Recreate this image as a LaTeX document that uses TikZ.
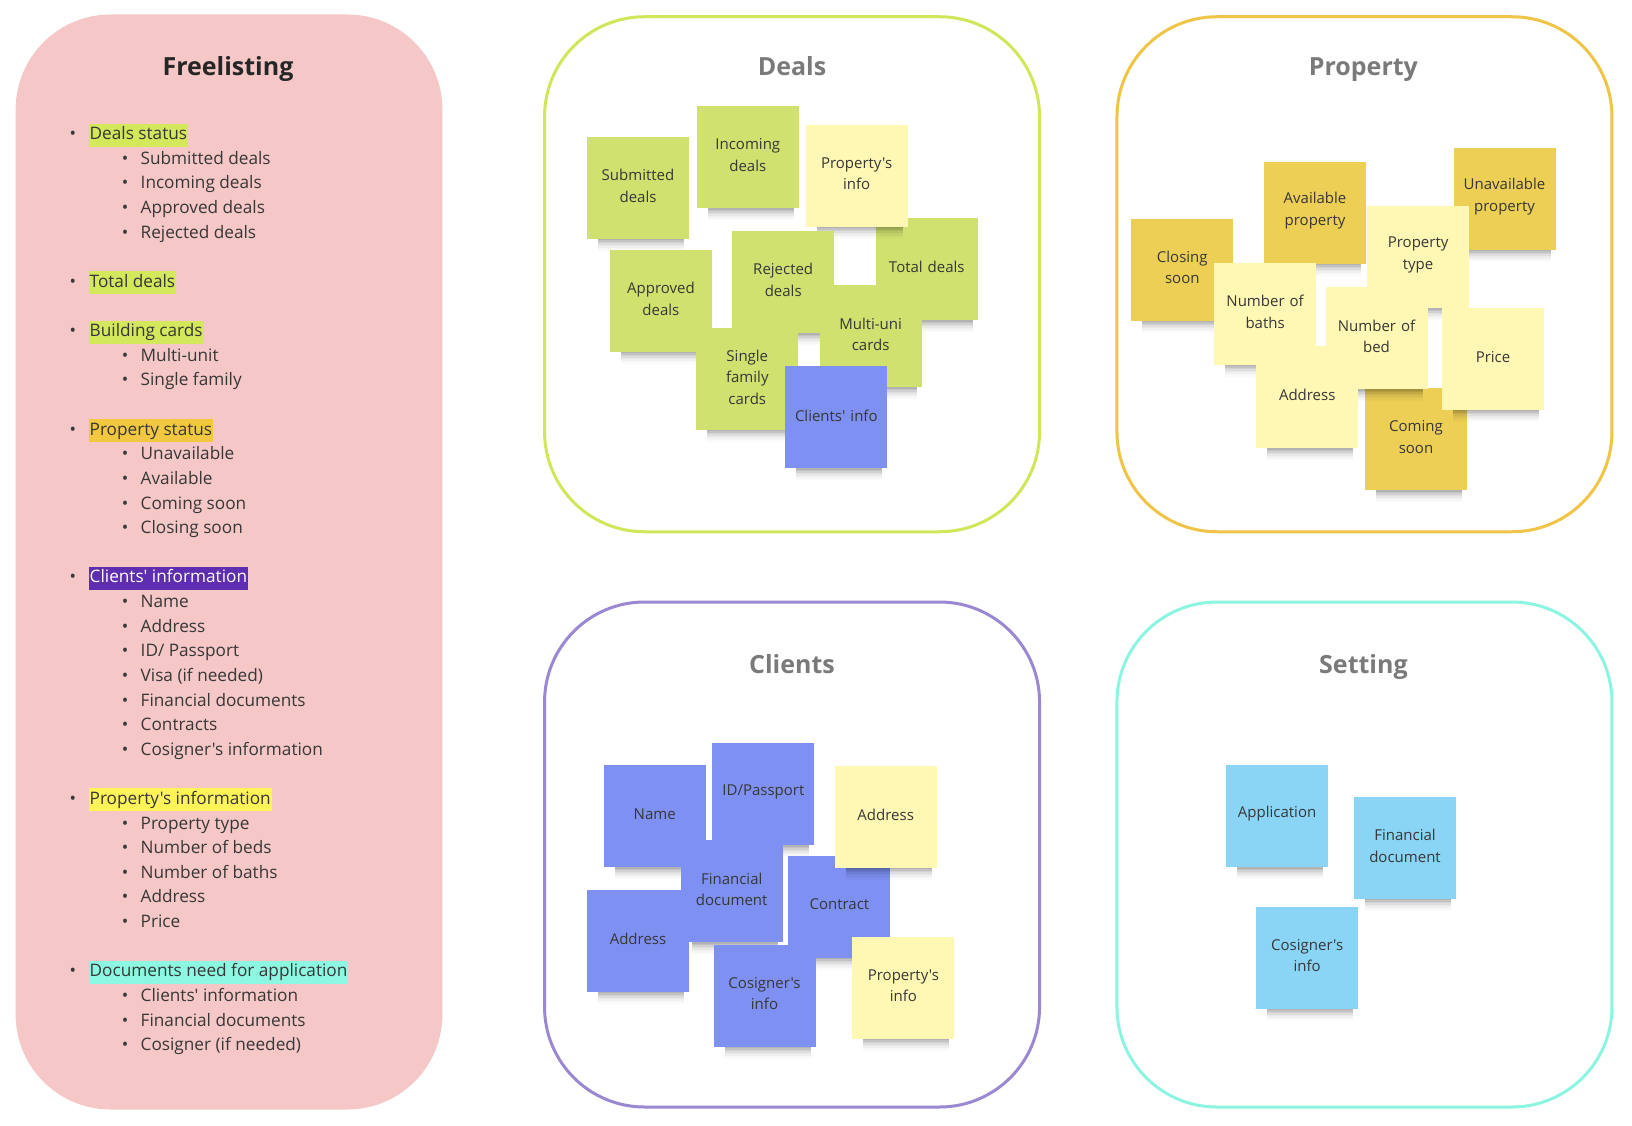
\documentclass[tikz,border=0pt]{standalone}
\usepackage{fontspec}
\setmainfont{Open Sans}[Ligatures=TeXOff]
\definecolor{txt}{RGB}{55,55,55}
\definecolor{ttl}{RGB}{122,122,122}
\definecolor{pinkbg}{RGB}{245,199,199}
\definecolor{hlgreen}{RGB}{212,232,92}
\definecolor{hlorange}{RGB}{242,200,65}
\definecolor{hlpurple}{RGB}{95,45,175}
\definecolor{hlyellow}{RGB}{255,243,90}
\definecolor{hlaqua}{RGB}{140,248,225}
\definecolor{dealsline}{RGB}{210,230,90}
\definecolor{propline}{RGB}{240,196,70}
\definecolor{clientline}{RGB}{155,135,210}
\definecolor{settingline}{RGB}{140,245,225}
\definecolor{ngreen}{RGB}{208,225,112}
\definecolor{nlyellow}{RGB}{255,247,180}
\definecolor{ndyellow}{RGB}{237,207,85}
\definecolor{nblue}{RGB}{126,144,242}
\definecolor{nlblue}{RGB}{138,212,245}
\tikzset{
  panel/.style={line width=3pt, rounded corners=100pt, inner sep=0pt, minimum width=495pt},
  paneltitle/.style={font=\fontsize{25}{30}\selectfont\bfseries, text=ttl, text height=18pt, text depth=0pt, inner sep=0pt},
  item/.style={anchor=west, font=\fontsize{17.2}{20}\selectfont, text=txt, text height=12.5pt, text depth=3.5pt, inner xsep=1pt, inner ysep=3.5pt},
  blt/.style={font=\fontsize{17.2}{20}\selectfont, text=txt, text height=12.5pt, text depth=3.5pt, inner sep=0pt},
  note/.style={minimum width=102pt, minimum height=102pt, inner sep=0pt},
  notetext/.style={text width=96pt, align=center, font=\fontsize{15}{21.5}\selectfont, text=txt, inner sep=0pt},
}
\newcommand\sticky[5]{%
  \foreach \k/\o in {0/0.30,1/0.24,2/0.18,3/0.13,4/0.09,5/0.06,6/0.035,7/0.015}{%
    \fill[black,opacity=\o] (#2-40,#3+51+1.5*\k) rectangle (#2+46,#3+52.5+1.5*\k);}
  \node[note,fill=#4] (#1) at (#2,#3) {};
  \node[notetext] (#1-t) at (#2,#3-2) {#5};
}
\newcommand\listtop[4]{\node[blt] (#1-b) at (72.9,#2+2) {•};\node[item,#3] (#1) at (88.5,#2+2) {#4};}
\newcommand\listsub[3]{\node[blt] (#1-b) at (125,#2+2) {•};\node[item] (#1) at (139.5,#2+2) {#3};}
\begin{document}
\begin{tikzpicture}[x=1pt,y=-1pt]
\useasboundingbox[fill=white] (0,0) rectangle (1632,1126);

% ---------- Freelisting panel ----------
\node[fill=pinkbg, rounded corners=95pt, minimum width=426.7pt, minimum height=1095pt, inner sep=0pt] (free) at (229,562) {};
\node[font=\fontsize{25}{30}\selectfont\bfseries, text=black!85, text height=18pt, text depth=0pt, inner sep=0pt] (freet) at (228,66.6) {Freelisting};

\listtop{a0}{133.2}{fill=hlgreen}{Deals status}
\listsub{a1}{157.8}{Submitted deals}
\listsub{a2}{182.4}{Incoming deals}
\listsub{a3}{207.1}{Approved deals}
\listsub{a4}{231.7}{Rejected deals}
\listtop{b0}{280.9}{fill=hlgreen}{Total deals}
\listtop{c0}{330.2}{fill=hlgreen}{Building cards}
\listsub{c1}{354.8}{Multi-unit}
\listsub{c2}{379.4}{Single family}
\listtop{d0}{428.6}{fill=hlorange}{Property status}
\listsub{d1}{453.3}{Unavailable}
\listsub{d2}{477.9}{Available}
\listsub{d3}{502.5}{Coming soon}
\listsub{d4}{527.1}{Closing soon}
\listtop{e0}{576.4}{fill=hlpurple,text=white}{Clients' information}
\listsub{e1}{601.0}{Name}
\listsub{e2}{625.6}{Address}
\listsub{e3}{650.2}{ID/ Passport}
\listsub{e4}{674.8}{Visa (if needed)}
\listsub{e5}{699.5}{Financial documents}
\listsub{e6}{724.1}{Contracts}
\listsub{e7}{748.7}{Cosigner's information}
\listtop{f0}{797.9}{fill=hlyellow}{Property's information}
\listsub{f1}{822.6}{Property type}
\listsub{f2}{847.2}{Number of beds}
\listsub{f3}{871.8}{Number of baths}
\listsub{f4}{896.4}{Address}
\listsub{f5}{921.0}{Price}
\listtop{g0}{970.3}{fill=hlaqua}{Documents need for application}
\listsub{g1}{994.9}{Clients' information}
\listsub{g2}{1019.5}{Financial documents}
\listsub{g3}{1044.1}{Cosigner (if needed)}

% ---------- Panels ----------
\node[panel, draw=dealsline, minimum height=515pt] (deals) at (792.05,274.25) {};
\node[panel, draw=propline, minimum height=515pt] (prop) at (1364.45,274.25) {};
\node[panel, draw=clientline, minimum height=505pt] (clients) at (792.05,854.5) {};
\node[panel, draw=settingline, minimum height=505pt] (setting) at (1364.45,854.5) {};

\node[paneltitle] (dealst) at (792,66.6) {Deals};
\node[paneltitle] (propt) at (1363.4,66.6) {Property};
\node[paneltitle] (clientst) at (792,664) {Clients};
\node[paneltitle] (settingt) at (1363.4,664) {Setting};

% ---------- Deals notes ----------
\sticky{dsub}{638.0}{187.9}{ngreen}{Submitted\\deals}
\sticky{dinc}{747.8}{157.2}{ngreen}{Incoming\\deals}
\sticky{dtot}{926.8}{269.0}{ngreen}{Total deals}
\sticky{dprop}{856.6}{175.9}{nlyellow}{Property's\\info}
\sticky{dapp}{660.9}{300.8}{ngreen}{Approved\\deals}
\sticky{drej}{783.2}{282.1}{ngreen}{Rejected\\deals}
\sticky{dmul}{870.6}{336.2}{ngreen}{Multi-uni\\cards}
\sticky{dsin}{747.3}{378.9}{ngreen}{Single\\family\\cards}
\sticky{dcli}{836.3}{417.4}{nblue}{Clients' info}

% ---------- Property notes ----------
\sticky{pclo}{1182.3}{269.6}{ndyellow}{Closing\\soon}
\sticky{pava}{1315.0}{212.8}{ndyellow}{Available\\property}
\sticky{punv}{1504.5}{198.8}{ndyellow}{Unavailable\\property}
\sticky{ptyp}{1418.1}{257.1}{nlyellow}{Property\\type}
\sticky{pbat}{1265.1}{313.8}{nlyellow}{Number of\\baths}
\sticky{pcom}{1416.0}{439.2}{ndyellow}{Coming\\soon}
\sticky{pbed}{1376.5}{338.3}{nlyellow}{Number of\\bed}
\sticky{ppri}{1493.0}{358.6}{nlyellow}{Price}
\sticky{padd}{1307.2}{397.1}{nlyellow}{Address}

% ---------- Clients notes ----------
\sticky{cnam}{654.7}{816.0}{nblue}{Name}
\sticky{cid}{763.4}{794.1}{nblue}{ID/Passport}
\sticky{cadb}{638.0}{940.9}{nblue}{Address}
\sticky{cfin}{731.7}{891.4}{nblue}{Financial\\document}
\sticky{ccon}{839.4}{906.5}{nblue}{Contract}
\sticky{cady}{885.7}{816.5}{nlyellow}{Address}
\sticky{ccos}{764.5}{995.5}{nblue}{Cosigner's\\info}
\sticky{cpro}{903.4}{987.7}{nlyellow}{Property's\\info}

% ---------- Setting notes ----------
\sticky{sapp}{1277.1}{816.0}{nlblue}{Application}
\sticky{sfin}{1405.0}{847.7}{nlblue}{Financial\\document}
\sticky{scos}{1307.2}{957.5}{nlblue}{Cosigner's\\info}
\end{tikzpicture}
\end{document}
